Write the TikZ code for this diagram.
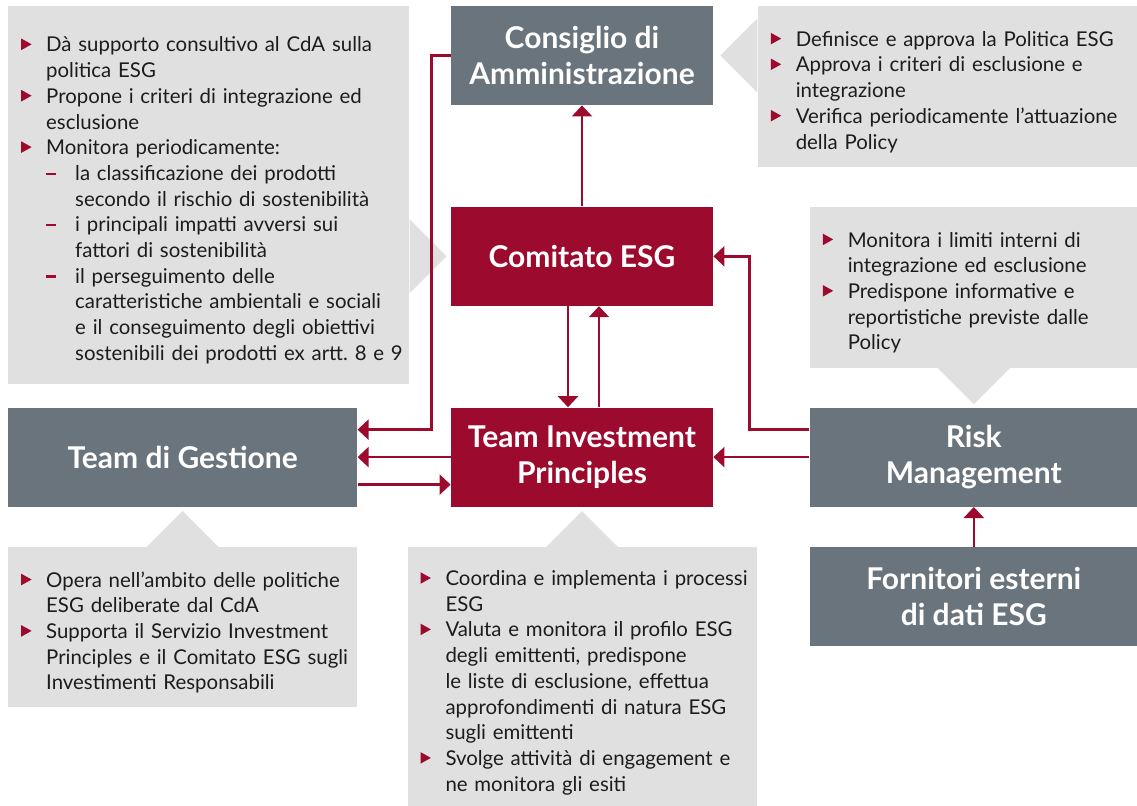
\documentclass[tikz,border=0pt]{standalone}
\usepackage{fontspec}
\setmainfont{Lato}
\newfontfamily\notafont{Lato}[WordSpace=0.8]
\usepackage{xcolor}
\usetikzlibrary{arrows.meta,positioning,calc}
\definecolor{rosso}{RGB}{156,11,46}
\definecolor{ardesia}{RGB}{105,116,124}
\definecolor{grigiochiaro}{RGB}{224,224,224}
\definecolor{testo}{RGB}{28,28,28}

\frenchspacing
\newcommand\punta{\tikz[baseline=0pt]\fill[rosso] (0,0.9pt) -- (5.2pt,3.8pt) -- (0,6.7pt) -- cycle;}
\newcommand\voce{\par\noindent\hyphenpenalty=10000\rightskip=-4pt plus 1fil\hangindent=12.5pt\hangafter=1\makebox[12.5pt][l]{\punta}}
\newcommand\sottovoce{\par\noindent\hyphenpenalty=10000\rightskip=-4pt plus 1fil\hangindent=27pt\hangafter=1\hspace*{12.5pt}\makebox[14.5pt][l]{\textcolor{rosso}{\rule[2.7pt]{5pt}{1.2pt}}}}

\tikzset{
  organo/.style={rectangle, fill=ardesia, text=white, align=center, inner sep=0pt,
    minimum height=49.5pt, font=\fontsize{15}{18}\selectfont\bfseries},
  organorosso/.style={organo, fill=rosso},
  nota/.style={rectangle, fill=grigiochiaro, text=testo, align=left, inner xsep=6.5pt,
    inner ysep=0pt, font=\notafont\fontsize{10.2}{12.85}\selectfont},
  freccia/.style={-{Triangle[width=10pt,length=5.5pt]}, line width=1.2pt, rosso}
}

\begin{document}
\begin{tikzpicture}
\useasboundingbox (0,0) rectangle (568.5pt,-402.5pt);

% Organi
\node[organo, minimum width=131pt] (cda) at (291pt,-27.75pt) {Consiglio di\\Amministrazione};
\node[organorosso, minimum width=131pt, below=50.5pt of cda] (comitato) {Comitato ESG};
\node[organorosso, minimum width=131pt, below=50.5pt of comitato] (tip) {Team Investment\\Principles};
\node[organo, minimum width=174.5pt, left=46.5pt of tip] (gestione) {Team di Gestione};
\node[organo, minimum width=164pt, right=48pt of tip] (risk) {Risk\\Management};
\node[organo, minimum width=164pt, below=20pt of risk] (fornitori) {Fornitori esterni\\di dati ESG};

% Note
\node[nota, anchor=north east, minimum width=200.5pt, minimum height=189pt, text width=187.5pt]
  (notacomitato) at ([xshift=-20.5pt]cda.north west) {%
  \voce Dà supporto consultivo al CdA sulla\newline politica ESG
  \voce Propone i criteri di integrazione ed\newline esclusione
  \voce Monitora periodicamente:
  \sottovoce la classificazione dei prodotti\newline secondo il rischio di sostenibilità
  \sottovoce i principali impatti avversi sui\newline fattori di sostenibilità
  \sottovoce il perseguimento delle\newline caratteristiche ambientali e sociali\newline e il conseguimento degli obiettivi\newline sostenibili dei prodotti ex artt.~8~e~9\par};
\fill[grigiochiaro] ($(notacomitato.east |- comitato)+(0,18.5pt)$) -- ++(18.5pt,-18.5pt) -- ++(-18.5pt,-18.5pt) -- cycle;

\node[nota, anchor=north west, minimum width=190pt, minimum height=80.5pt, text width=177pt]
  (notacda) at ([xshift=22pt]cda.north east) {%
  \voce Definisce e approva la Politica ESG
  \voce Approva i criteri di esclusione e\newline integrazione
  \voce Verifica periodicamente l’attuazione\newline della Policy\par};
\fill[grigiochiaro] ($(notacda.west |- cda)+(0,18.5pt)$) -- ++(-18.5pt,-18.5pt) -- ++(18.5pt,-18.5pt) -- cycle;

\node[nota, anchor=north west, minimum width=164pt, minimum height=80.5pt, text width=151pt]
  (notarisk) at (risk.west |- comitato.north) {%
  \voce Monitora i limiti interni di\newline integrazione ed esclusione
  \voce Predispone informative e\newline reportistiche previste dalle\newline Policy\par};
\fill[grigiochiaro] ($(notarisk.south -| risk)+(-18pt,0)$) -- ++(18pt,-18pt) -- ++(18pt,18pt) -- cycle;

\node[nota, anchor=north west, minimum width=174.5pt, minimum height=80pt, text width=161.5pt]
  (notagestione) at ([yshift=-20pt]gestione.south west) {%
  \voce Opera nell’ambito delle politiche\newline ESG deliberate dal CdA
  \voce Supporta il Servizio Investment\newline Principles e il Comitato ESG sugli\newline Investimenti Responsabili\par};
\fill[grigiochiaro] ($(notagestione.north)+(-18pt,0)$) -- ++(18pt,18pt) -- ++(18pt,-18pt) -- cycle;

\node[nota, anchor=north, minimum width=174.5pt, minimum height=130pt, text width=161.5pt]
  (notatip) at ([yshift=-20pt]tip.south) {%
  \voce Coordina e implementa i processi\newline ESG
  \voce Valuta e monitora il profilo ESG\newline degli emittenti, predispone\newline le liste di esclusione, effettua\newline approfondimenti di natura ESG\newline sugli emittenti
  \voce Svolge attività di engagement e\newline ne monitora gli esiti\par};
\fill[grigiochiaro] ($(notatip.north)+(-18pt,0)$) -- ++(18pt,18pt) -- ++(18pt,-18pt) -- cycle;

% Frecce
\draw[freccia] (comitato) -- (cda);
\draw[freccia] (cda.west) -- ++(-9.5pt,0) |- ([yshift=13.75pt]gestione.east);
\draw[freccia] ([xshift=-7pt]comitato.south) -- ([xshift=-7pt]tip.north);
\draw[freccia] ([xshift=8.5pt]tip.north) -- ([xshift=8.5pt]comitato.south);
\draw[freccia] (tip) -- (gestione);
\draw[freccia] ([yshift=-13.75pt]gestione.east) -- ([yshift=-13.75pt]tip.west);
\draw[freccia] (risk) -- (tip);
\draw[freccia] ([yshift=13.75pt]risk.west) -- ++(-30pt,0) |- (comitato.east);
\draw[freccia] (fornitori) -- (risk);
\end{tikzpicture}
\end{document}
